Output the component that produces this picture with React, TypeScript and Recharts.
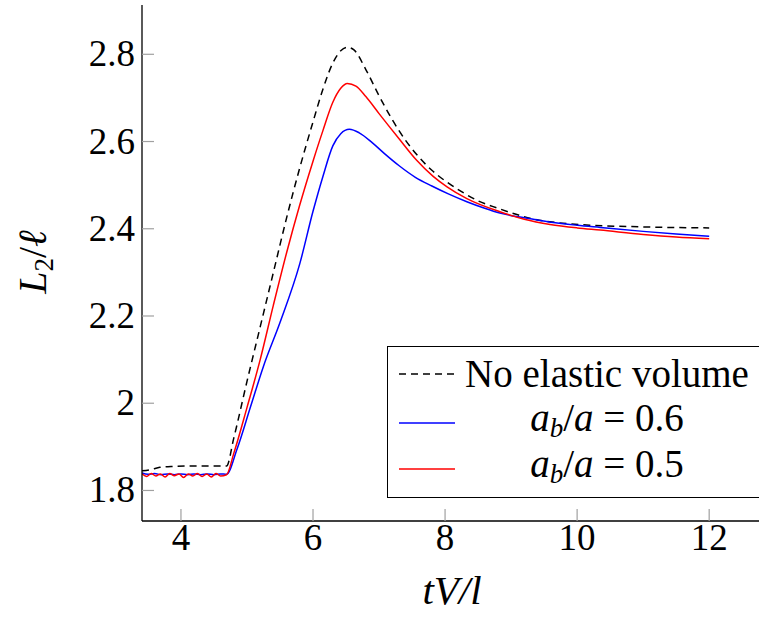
import React from "react"
import { LineChart, Line, XAxis, YAxis } from "recharts"

// time axis tV/l and L2/l values
const noElasticT = [3.41, 3.55, 3.68, 3.85, 4.2, 4.69, 4.8, 5.0, 5.2, 5.4, 5.6, 5.8, 6.0, 6.15, 6.3, 6.42, 6.52, 6.62, 6.8, 7.0, 7.2, 7.4, 7.6, 7.8, 8.0, 8.25, 8.5, 8.8, 9.1, 9.35, 9.7, 10.2, 10.8, 11.4, 12.0]
const noElasticL = [1.845, 1.848, 1.853, 1.855, 1.856, 1.856, 1.92, 2.05, 2.175, 2.3, 2.425, 2.54, 2.645, 2.72, 2.78, 2.808, 2.816, 2.81, 2.765, 2.705, 2.65, 2.603, 2.565, 2.534, 2.51, 2.485, 2.464, 2.447, 2.432, 2.422, 2.414, 2.408, 2.405, 2.403, 2.402]

const ratio06T = [3.41, 3.5, 3.6, 3.7, 3.8, 3.9, 4.0, 4.1, 4.2, 4.3, 4.4, 4.5, 4.6, 4.69, 4.85, 5.05, 5.25, 5.5, 5.8, 6.0, 6.15, 6.3, 6.42, 6.55, 6.7, 6.9, 7.1, 7.3, 7.55, 7.8, 8.05, 8.33, 8.6, 8.83, 9.2, 9.6, 10.0, 10.35, 11.0, 11.5, 12.0]
const ratio06L = [1.84, 1.837, 1.839, 1.836, 1.838, 1.836, 1.838, 1.836, 1.838, 1.836, 1.838, 1.836, 1.838, 1.837, 1.895, 1.99, 2.085, 2.185, 2.32, 2.44, 2.52, 2.59, 2.618, 2.628, 2.62, 2.597, 2.57, 2.545, 2.518, 2.498, 2.48, 2.462, 2.447, 2.436, 2.425, 2.415, 2.408, 2.403, 2.394, 2.388, 2.383]

const ratio05T = [3.41, 3.48, 3.55, 3.62, 3.69, 3.76, 3.83, 3.9, 3.97, 4.04, 4.11, 4.18, 4.25, 4.32, 4.39, 4.46, 4.53, 4.6, 4.69, 4.8, 5.0, 5.2, 5.4, 5.6, 5.8, 6.0, 6.15, 6.3, 6.42, 6.52, 6.65, 6.8, 7.0, 7.3, 7.57, 7.82, 8.03, 8.33, 8.83, 9.2, 9.59, 10.0, 10.35, 11.0, 11.5, 12.0]
const ratio05L = [1.838, 1.832, 1.839, 1.833, 1.838, 1.831, 1.839, 1.834, 1.838, 1.83, 1.838, 1.833, 1.839, 1.832, 1.838, 1.831, 1.839, 1.833, 1.836, 1.885, 1.99, 2.1, 2.225, 2.345, 2.455, 2.555, 2.625, 2.69, 2.722, 2.733, 2.727, 2.703, 2.664, 2.607, 2.557, 2.52, 2.496, 2.469, 2.439, 2.422, 2.41, 2.402, 2.397, 2.387, 2.381, 2.377]

const xTicks = [4, 6, 8, 10, 12]
const yTicks = [1.8, 2, 2.2, 2.4, 2.6, 2.8]

const toPoints = (t: number[], l: number[]) => t.map((v, i) => ({ t: v, L: l[i] }))

const FONT = "Liberation Serif, DejaVu Serif, serif"
const TICK_LEN = 12
const TICK_COLOR = "#a0a0a0"

const BottomTick = (props: any) => {
  const { x, y, payload } = props
  return (
    <g>
      <line x1={x} y1={y - 6} x2={x} y2={y - 6 - TICK_LEN} stroke={TICK_COLOR} strokeWidth={1.2} />
      <text x={x} y={y + 23} textAnchor="middle" fontSize={37} fontFamily={FONT} fill="#000">
        {payload.value}
      </text>
    </g>
  )
}

const LeftTick = (props: any) => {
  const { x, y, payload } = props
  return (
    <g>
      <line x1={x + 7} y1={y} x2={x + 7 + TICK_LEN} y2={y} stroke={TICK_COLOR} strokeWidth={1.2} />
      <text x={x} y={y + 12} textAnchor="end" fontSize={37} fontFamily={FONT} fill="#000">
        {Number(payload.value.toFixed(1)).toString()}
      </text>
    </g>
  )
}

const TopTick = (props: any) => {
  const { x, y } = props
  return <line x1={x} y1={y} x2={x} y2={y + TICK_LEN} stroke={TICK_COLOR} strokeWidth={1.2} />
}

const RightTick = (props: any) => {
  const { x, y } = props
  return <line x1={x} y1={y} x2={x - TICK_LEN} y2={y} stroke={TICK_COLOR} strokeWidth={1.2} />
}

const XTitle = (props: any) => {
  const { viewBox } = props
  return (
    <text x={viewBox.x + 310} y={604} textAnchor="middle" fontSize={41} fontFamily={FONT} fontStyle="italic" fill="#000">
      tV/l
    </text>
  )
}

const YTitle = () => (
  <text x={46} y={262} transform="rotate(-90, 46, 262)" textAnchor="middle" fontSize={40} fontFamily={FONT} fill="#000">
    <tspan fontStyle="italic">L</tspan>
    <tspan fontSize={27} dy={7}>2</tspan>
    <tspan dy={-7}>/</tspan>
    <tspan fontStyle="italic">ℓ</tspan>
  </text>
)

const LegendRow = ({ top, sample, children }: any) => (
  <div style={{ position: "absolute", left: 0, top, width: 380, height: 46, display: "flex", alignItems: "center" }}>
    <svg width={56} height={10} style={{ marginLeft: 11 }}>
      {sample}
    </svg>
    <div style={{ width: 296, marginLeft: 4, textAlign: "center", fontSize: 39, fontFamily: FONT, whiteSpace: "nowrap", lineHeight: "46px" }}>
      {children}
    </div>
  </div>
)

const Ratio = ({ v }: { v: string }) => (
  <span>
    <i>a</i>
    <sub style={{ fontSize: 27, verticalAlign: "-6px" }}>
      <i>b</i>
    </sub>
    /<i>a</i>&nbsp;=&nbsp;{v}
  </span>
)

export default function App() {
  return (
    <div style={{ position: "absolute", left: 0, top: 0, width: 759, height: 617, overflow: "hidden", background: "#fff" }}>
      <LineChart width={780} height={617} margin={{ top: 5, right: 18, bottom: 0, left: 0 }}>
        <XAxis
          xAxisId="b"
          type="number"
          dataKey="t"
          domain={[3.41, 12.8]}
          allowDataOverflow
          ticks={xTicks}
          interval={0}
          height={96}
          tickSize={0}
          tickMargin={6}
          tickLine={false}
          axisLine={{ stroke: "#000", strokeWidth: 1.3 }}
          tick={<BottomTick />}
          label={<XTitle />}
        />
        <XAxis
          xAxisId="t"
          orientation="top"
          type="number"
          dataKey="t"
          domain={[3.41, 12.8]}
          allowDataOverflow
          ticks={xTicks}
          interval={0}
          height={0}
          tickSize={0}
          tickMargin={0}
          tickLine={false}
          axisLine={{ stroke: "#000", strokeWidth: 1.3 }}
          tick={<TopTick />}
        />
        <YAxis
          yAxisId="l"
          type="number"
          domain={[1.73, 2.913]}
          allowDataOverflow
          ticks={yTicks}
          interval={0}
          width={142}
          tickSize={0}
          tickMargin={7}
          tickLine={false}
          axisLine={{ stroke: "#000", strokeWidth: 1.3 }}
          tick={<LeftTick />}
          label={<YTitle />}
        />
        <YAxis
          yAxisId="r"
          orientation="right"
          type="number"
          domain={[1.73, 2.913]}
          allowDataOverflow
          ticks={yTicks}
          interval={0}
          width={0}
          tickSize={0}
          tickMargin={0}
          tickLine={false}
          axisLine={{ stroke: "#000", strokeWidth: 1.3 }}
          tick={<RightTick />}
        />
        <Line
          xAxisId="b"
          yAxisId="l"
          data={toPoints(noElasticT, noElasticL)}
          dataKey="L"
          type="monotone"
          stroke="#000"
          strokeWidth={1.5}
          strokeDasharray="7 5"
          dot={false}
          isAnimationActive={false}
        />
        <Line
          xAxisId="b"
          yAxisId="l"
          data={toPoints(ratio06T, ratio06L)}
          dataKey="L"
          type="monotone"
          stroke="#0000ff"
          strokeWidth={1.5}
          dot={false}
          isAnimationActive={false}
        />
        <Line
          xAxisId="b"
          yAxisId="l"
          data={toPoints(ratio05T, ratio05L)}
          dataKey="L"
          type="monotone"
          stroke="#ff0000"
          strokeWidth={1.5}
          dot={false}
          isAnimationActive={false}
        />
      </LineChart>
      <div
        style={{
          position: "absolute",
          left: 387,
          top: 346,
          width: 400,
          height: 150,
          border: "1.3px solid #000",
          background: "#fff",
        }}
      >
        <LegendRow top={4} sample={<line x1={0} y1={5} x2={56} y2={5} stroke="#000" strokeWidth={1.5} strokeDasharray="7 5" />}>
          No elastic volume
        </LegendRow>
        <LegendRow top={53} sample={<line x1={0} y1={5} x2={56} y2={5} stroke="#0000ff" strokeWidth={1.5} />}>
          <Ratio v="0.6" />
        </LegendRow>
        <LegendRow top={99} sample={<line x1={0} y1={5} x2={56} y2={5} stroke="#ff0000" strokeWidth={1.5} />}>
          <Ratio v="0.5" />
        </LegendRow>
      </div>
    </div>
  )
}
